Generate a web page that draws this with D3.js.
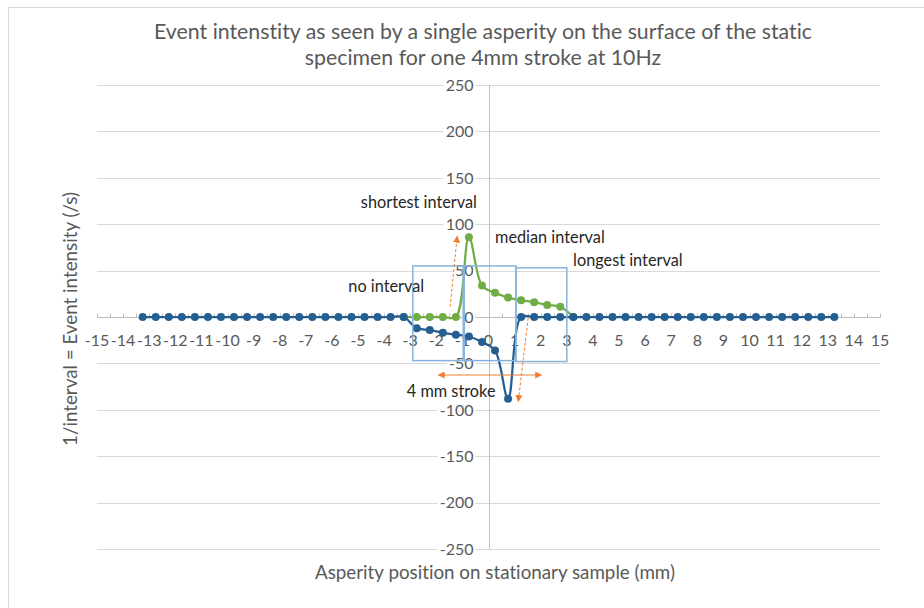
<!DOCTYPE html>
<html>
<head>
<meta charset="utf-8">
<script src="https://cdn.jsdelivr.net/npm/d3@7"></script>
<style>
body { margin: 0; background: #fff; }
text { font-family: Lato, "Liberation Sans", sans-serif; font-variant-ligatures: none; font-feature-settings: "liga" 0; }
.title { fill: #595959; font-size: 21.3px; }
.axisTitle { fill: #595959; font-size: 18.8px; }
.tickLabel { fill: #595959; font-size: 16px; }
.note { fill: #262626; font-size: 16.3px; }
.grid { stroke: #d9d9d9; stroke-width: 1; }
.axisLine { stroke: #bfbfbf; stroke-width: 1; }
</style>
</head>
<body>
<div id="chart"></div>
<script>
var width = 924;
var height = 608;

var COLOR_BLUE = '#255e91';
var COLOR_GREEN = '#70ad47';
var COLOR_BOX = '#86b3de';
var COLOR_ARROW = '#ed7d31';

// DATA
var TITLE_LINES = ['Event intenstity as seen by a single asperity on the surface of the static',
    'specimen for one 4mm stroke at 10Hz'];
var X_TITLE = 'Asperity position on stationary sample (mm)';
var Y_TITLE = '1/interval = Event  intensity (/s)';

var xTicks = [-15, -14, -13, -12, -11, -10, -9, -8, -7, -6, -5, -4, -3, -2, -1, 0,
    1, 2, 3, 4, 5, 6, 7, 8, 9, 10, 11, 12, 13, 14, 15];
var yTicks = [-250, -200, -150, -100, -50, 0, 50, 100, 150, 200, 250];

// blue series: whole track
var bluePositions = [-13.25, -12.75, -12.25, -11.75, -11.25, -10.75, -10.25, -9.75, -9.25,
    -8.75, -8.25, -7.75, -7.25, -6.75, -6.25, -5.75, -5.25, -4.75, -4.25, -3.75, -3.25,
    -2.75, -2.25, -1.75, -1.25, -0.75, -0.25, 0.25, 0.75,
    1.25, 1.75, 2.25, 2.75, 3.25, 3.75, 4.25, 4.75, 5.25, 5.75, 6.25, 6.75, 7.25, 7.75,
    8.25, 8.75, 9.25, 9.75, 10.25, 10.75, 11.25, 11.75, 12.25, 12.75, 13.25];
var blueValues = [0, 0, 0, 0, 0, 0, 0, 0, 0,
    0, 0, 0, 0, 0, 0, 0, 0, 0, 0, 0, 0,
    -12, -14, -17, -19, -21, -27, -36, -88,
    0, 0, 0, 0, 0, 0, 0, 0, 0, 0, 0, 0, 0, 0,
    0, 0, 0, 0, 0, 0, 0, 0, 0, 0, 0];

// green series: under the stroke only
var greenPositions = [-3.25, -2.75, -2.25, -1.75, -1.25, -0.75, -0.25, 0.25, 0.75, 1.25,
    1.75, 2.25, 2.75, 3.25];
var greenValues = [0, 0, 0, 0, 0, 86, 34, 26, 21, 18, 16, 13, 11, 0];

// annotations (in data units)
var notes = [
    { text: 'shortest interval', x: -4.89, y: 117 },
    { text: 'median interval', x: 0.25, y: 80 },
    { text: 'longest interval', x: 3.24, y: 55 },
    { text: 'no interval', x: -5.37, y: 27 },
    { text: '4 mm stroke', x: -3.13, y: -86 }
];
var boxes = [
    { x0: -2.9, x1: -0.97, y0: 55, y1: -47 },
    { x0: -0.93, x1: 1.05, y0: 55, y1: -47 },
    { x0: 1.05, x1: 3.0, y0: 53, y1: -48 }
];
var arrows = [
    { x1: -1.47, y1: 11, x2: -1.2, y2: 87, dashed: true, both: false },
    { x1: 1.52, y1: -1, x2: 1.14, y2: -91, dashed: true, both: false },
    { x1: -1.92, y1: -62.5, x2: 2.03, y2: -62.5, dashed: false, both: true }
];

var svg = d3.select('#chart')
    .append('svg')
    .attr('width', width)
    .attr('height', height)

// chart border (runs past the window on right/bottom)
svg.append('rect')
    .attr('x', 8.5).attr('y', 7.5)
    .attr('width', 1000).attr('height', 1000)
    .attr('fill', '#fff')
    .attr('stroke', '#d9d9d9')

var x = d3.scaleLinear().domain([-15, 15]).range([97, 880]);
var y = d3.scaleLinear().domain([-250, 250]).range([549, 85]);

var defs = svg.append('defs');
defs.append('marker')
    .attr('id', 'head')
    .attr('viewBox', '0 0 10 10')
    .attr('refX', 9).attr('refY', 5)
    .attr('markerWidth', 7).attr('markerHeight', 7)
    .attr('markerUnits', 'userSpaceOnUse')
    .attr('orient', 'auto-start-reverse')
    .append('path')
    .attr('d', 'M0,0 L10,5 L0,10 Z')
    .attr('fill', COLOR_ARROW);

// title
svg.append('text')
    .attr('class', 'title')
    .attr('text-anchor', 'middle')
    .selectAll('tspan')
    .data(TITLE_LINES)
    .enter().append('tspan')
    .attr('x', 483)
    .attr('y', function (d, i) { return 39 + i * 26; })
    .text(function (d) { return d; })

// gridlines
svg.append('g')
    .selectAll('line')
    .data(yTicks.filter(function (d) { return d != 0; }))
    .enter().append('line')
    .attr('class', 'grid')
    .attr('x1', x(-15)).attr('x2', x(15))
    .attr('y1', function (d) { return Math.round(y(d)) + 0.5; })
    .attr('y2', function (d) { return Math.round(y(d)) + 0.5; })

// axes lines
var y0 = Math.round(y(0)) + 0.5;
var x0 = Math.round(x(0)) + 0.5;
svg.append('line').attr('class', 'axisLine')
    .attr('x1', x(-15)).attr('x2', x(15)).attr('y1', y0).attr('y2', y0)
svg.append('line').attr('class', 'axisLine')
    .attr('x1', x0).attr('x2', x0).attr('y1', y(250)).attr('y2', y(-250))

// small ticks every half unit along the x axis
svg.append('g')
    .selectAll('line')
    .data(d3.range(0, 61))
    .enter().append('line')
    .attr('class', 'axisLine')
    .attr('x1', function (i) { return Math.round(x(-15 + i * 0.5)) + 0.5; })
    .attr('x2', function (i) { return Math.round(x(-15 + i * 0.5)) + 0.5; })
    .attr('y1', y0 - 4).attr('y2', y0)

// y tick labels with white backing (they hide the gridlines)
var yl = svg.append('g')
    .selectAll('g')
    .data(yTicks)
    .enter().append('g')
    .attr('transform', function (d) { return 'translate(' + (x(0) - 15) + ',' + y(d) + ')'; })
yl.append('text')
    .attr('class', 'tickLabel')
    .attr('text-anchor', 'end')
    .attr('dy', '0.36em')
    .text(function (d) { return d; })
    .each(function () {
        var b = this.getBBox();
        d3.select(this.parentNode).insert('rect', 'text')
            .attr('x', b.x - 2).attr('y', b.y)
            .attr('width', b.width + 4).attr('height', b.height)
            .attr('fill', '#fff')
    })

// x tick labels
svg.append('g')
    .selectAll('text')
    .data(xTicks)
    .enter().append('text')
    .attr('class', 'tickLabel')
    .attr('text-anchor', 'middle')
    .attr('x', function (d) { return x(d); })
    .attr('y', y(0) + 29)
    .text(function (d) { return d; })

// axis titles
svg.append('text')
    .attr('class', 'axisTitle')
    .attr('text-anchor', 'middle')
    .attr('x', 495).attr('y', 579)
    .text(X_TITLE)
svg.append('text')
    .attr('class', 'axisTitle')
    .attr('text-anchor', 'middle')
    .attr('transform', 'translate(77,319) rotate(-90)')
    .text(Y_TITLE)

// series
var drawSeries = function (xs, vals, color) {
    var pts = xs.map(function (d, i) { return [d, vals[i]]; });
    svg.append('path')
        .datum(pts)
        .attr('fill', 'none')
        .attr('stroke', color)
        .attr('stroke-width', 2.25)
        .attr('d', d3.line()
            .x(function (d) { return x(d[0]); })
            .y(function (d) { return y(d[1]); })
            .curve(d3.curveCatmullRom.alpha(0.5)))
    svg.append('g')
        .selectAll('circle')
        .data(pts)
        .enter().append('circle')
        .attr('cx', function (d) { return x(d[0]); })
        .attr('cy', function (d) { return y(d[1]); })
        .attr('r', 4)
        .attr('fill', color)
}
drawSeries(greenPositions, greenValues, COLOR_GREEN);
drawSeries(bluePositions, blueValues, COLOR_BLUE);

// boxes
svg.append('g')
    .selectAll('rect')
    .data(boxes)
    .enter().append('rect')
    .attr('x', function (d) { return x(d.x0); })
    .attr('y', function (d) { return y(d.y0); })
    .attr('width', function (d) { return x(d.x1) - x(d.x0); })
    .attr('height', function (d) { return y(d.y1) - y(d.y0); })
    .attr('fill', 'none')
    .attr('stroke', COLOR_BOX)
    .attr('stroke-width', 1.5)

// arrows
svg.append('g')
    .selectAll('line')
    .data(arrows)
    .enter().append('line')
    .attr('x1', function (d) { return x(d.x1); })
    .attr('y1', function (d) { return y(d.y1); })
    .attr('x2', function (d) { return x(d.x2); })
    .attr('y2', function (d) { return y(d.y2); })
    .attr('stroke', COLOR_ARROW)
    .attr('stroke-width', 1)
    .attr('stroke-dasharray', function (d) { return d.dashed ? '3,2' : null; })
    .attr('marker-end', 'url(#head)')
    .attr('marker-start', function (d) { return d.both ? 'url(#head)' : null; })

// notes
svg.append('g')
    .selectAll('text')
    .data(notes)
    .enter().append('text')
    .attr('class', 'note')
    .attr('x', function (d) { return x(d.x); })
    .attr('y', function (d) { return y(d.y); })
    .text(function (d) { return d.text; })
</script>
</body>
</html>
